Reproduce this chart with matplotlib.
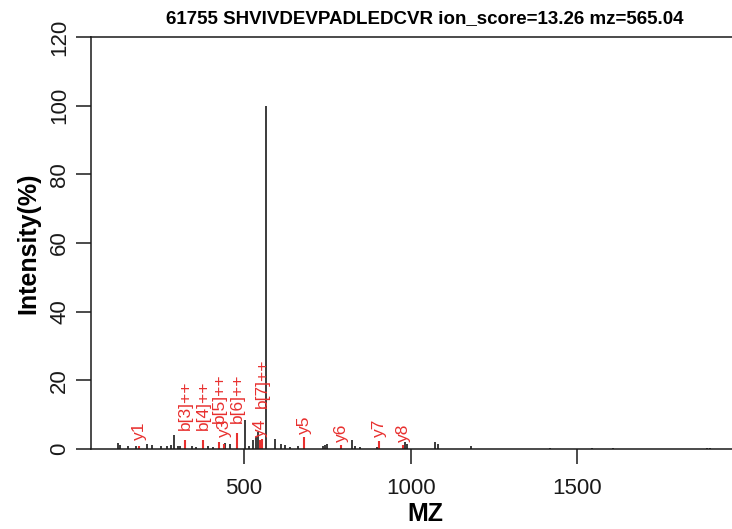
import matplotlib
matplotlib.use("Agg")
import matplotlib.pyplot as plt

plt.rcParams['font.family'] = ['Liberation Sans', 'DejaVu Sans']

# Spectrum peaks (m/z, relative intensity %)
peak_mz = [121.6, 128, 151, 176, 209, 224, 251, 269, 281, 290, 302, 308,
           344, 356, 392, 407, 443, 458, 503, 515, 527, 536, 542, 566,
           593, 611, 623, 638, 662, 737, 743, 749, 824, 833, 848, 899,
           983, 989, 1073, 1083, 1181, 1419, 1545, 1608, 1890, 1900]
peak_int = [1.8, 1.2, 0.8, 1.0, 1.5, 1.3, 0.8, 1.0, 1.2, 4.1, 1.0, 0.8,
            0.8, 0.6, 0.8, 0.6, 1.8, 1.5, 8.4, 1.0, 2.5, 3.5, 5.0, 100,
            3.0, 1.5, 1.2, 0.6, 0.8, 1.0, 1.2, 1.5, 2.5, 1.0, 0.5, 0.5,
            2.0, 1.5, 2.0, 1.5, 1.0, 0.3, 0.3, 0.3, 0.4, 0.4]

# Matched fragment ions
ion_names = ["y1", "b[3]++", "b[4]++", "b[5]++", "y3", "b[6]++", "y4",
             "b[7]++", "y5", "y6", "y7", "y8"]
ion_mz = [185, 323, 377, 425, 440, 479, 548, 554, 680, 792, 905, 977]
ion_int = [1.0, 2.6, 2.6, 2.0, 1.5, 4.7, 2.6, 3.0, 3.5, 1.2, 2.4, 1.2]
ion_label_y = [2.6, 5.5, 5.5, 7.6, 3.5, 7.6, 3.5, 12.0, 4.4, 2.0, 3.5, 2.0]

title = "61755 SHVIVDEVPADLEDCVR ion_score=13.26 mz=565.04"

W, H = 732, 529
fig = plt.figure(figsize=(W / 100, H / 100), dpi=100)
# plot region runs past the right edge of the picture, as in the original
ax = fig.add_axes([91 / W, (H - 449) / H, (759 - 91) / W, (449 - 37) / H])

ax.vlines(peak_mz, 0, peak_int, color="#1a1a1a", linewidth=1.2)
ax.vlines(ion_mz, 0, ion_int, color="#e8302f", linewidth=1.5)
for name, x, y in zip(ion_names, ion_mz, ion_label_y):
    ax.text(x, y, name, rotation=90, ha="center", va="bottom",
            color="#e8302f", fontsize=12.5)

ax.set_xlim(40.5, 2046)
ax.set_ylim(0, 120)
ax.set_xticks([500, 1000, 1500])
ax.set_yticks(range(0, 121, 20))

for side in ["left", "top", "bottom"]:
    ax.spines[side].set_linewidth(1.1)
    ax.spines[side].set_color("#1a1a1a")
ax.spines["right"].set_visible(False)

ax.tick_params(axis="both", direction="out", length=11, width=1.1,
               color="#1a1a1a", labelsize=16, labelcolor="#1a1a1a")
ax.tick_params(axis="x", pad=10)
ax.tick_params(axis="y", pad=4)
for lab in ax.get_yticklabels():
    lab.set_rotation(90)
    lab.set_va("center")

ax.set_title(title, fontsize=13.5, fontweight="bold", pad=10)
ax.set_xlabel("MZ", fontsize=18, fontweight="bold", labelpad=2)
ax.set_ylabel("Intensity(%)", fontsize=18, fontweight="bold", labelpad=6)

fig.savefig("out.png", dpi=100)
